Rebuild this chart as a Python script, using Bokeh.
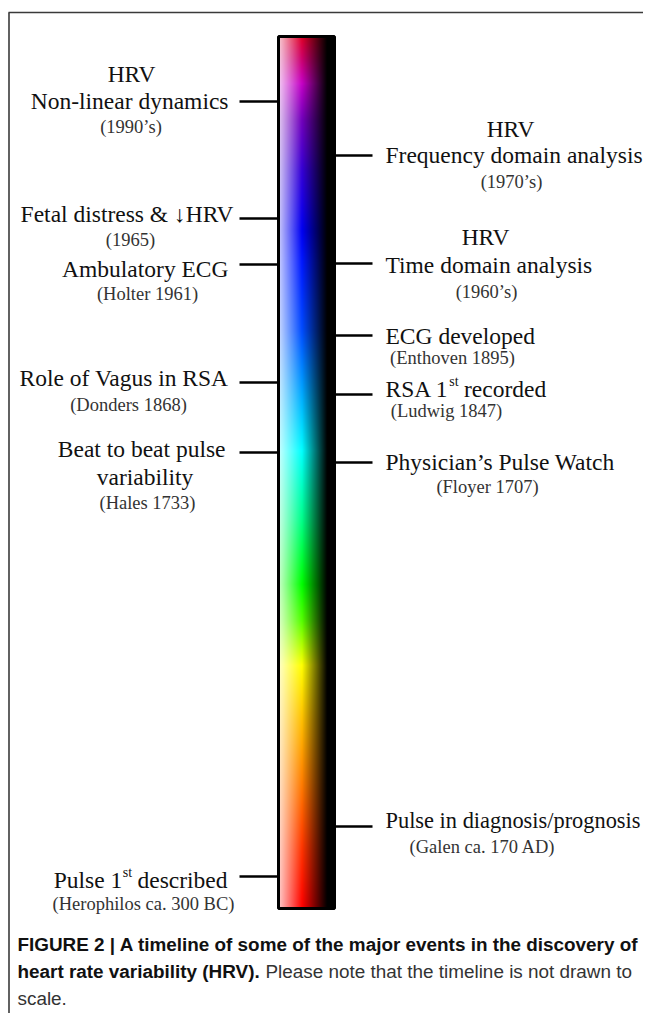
import numpy as np
from bokeh.plotting import figure
from bokeh.models import Range1d
from bokeh.core.properties import value
from bokeh.embed import file_html
from bokeh.resources import INLINE

# ---------------- data ----------------
left_pre = ["HRV", "", "", "", "", ""]
left_main = ["Non-linear dynamics", "Fetal distress & \u2193HRV", "Ambulatory ECG",
             "Role of Vagus in RSA", "Beat to beat pulse", "Pulse 1st described"]
left_second = ["", "", "", "", "variability", ""]
left_sub = ["(1990\u2019s)", "(1965)", "(Holter 1961)", "(Donders 1868)",
            "(Hales 1733)", "(Herophilos ca. 300 BC)"]

right_pre = ["HRV", "HRV", "", "", "", ""]
right_main = ["Frequency domain analysis", "Time domain analysis", "ECG developed",
              "RSA 1st recorded", "Physician\u2019s Pulse Watch", "Pulse in diagnosis/prognosis"]
right_sub = ["(1970\u2019s)", "(1960\u2019s)", "(Enthoven 1895)", "(Ludwig 1847)",
             "(Floyer 1707)", "(Galen ca. 170 AD)"]

caption_1 = "FIGURE 2 | A timeline of some of the major events in the discovery of"
caption_2b = "heart rate variability (HRV)."
caption_2r = "Please note that the timeline is not drawn to"
caption_3 = "scale."

# ---------------- layout (pixels from top-left) ----------------
W, H = 643, 1013
def Y(v):
    return H - v

left_tick = [101, 218, 264, 382, 452, 876]
left_main_y = [100.5, 213, 268, 377, 448.5, 879]
left_main_r = [228, 233, 228, 228, 225, 227]
left_pre_y = [73, 0, 0, 0, 0, 0]
left_pre_cx = [131, 0, 0, 0, 0, 0]
left_second_y = [0, 0, 0, 0, 476.5, 0]
left_second_cx = [0, 0, 0, 0, 144.5, 0]
left_sub_y = [126.5, 239.5, 293.5, 404, 502, 903]
left_sub_cx = [130.5, 130, 147, 128, 147, 143]

right_tick = [155, 263, 335, 394, 462, 826]
right_main_y = [154.5, 264.5, 335, 388, 461, 820]
right_main_x = 385
right_main_fs = [23.5, 23.5, 23.5, 23.5, 23.5, 22.4]
right_pre_y = [128.5, 236, 0, 0, 0, 0]
right_pre_cx = [510, 485, 0, 0, 0, 0]
right_sub_y = [181.5, 291.5, 357, 410, 486, 846]
right_sub_cx = [511, 486, 452, 446, 487, 482]

BAR_X0, BAR_X1, BAR_Y0, BAR_Y1 = 278, 334, 36, 908

SERIF = value("Liberation Serif")
SANS = value("Liberation Sans")
MAIN_FS = 23.5
SUB_FS = "18.5px"
SUP_FS = 14
MAIN_C = "#111111"
SUB_C = "#333333"

# Times / Liberation Serif advance widths (per em) for superscript placement
TW = {" ": .25, "P": .556, "u": .5, "l": .278, "s": .389, "e": .444, "1": .5,
      "t": .278, "d": .5, "c": .444, "r": .333, "i": .278, "b": .5, "R": .667,
      "S": .556, "A": .722, "o": .5}
def tw(s, fs):
    return sum(TW.get(ch, .5) for ch in s) * fs

p = figure(width=W, height=H, x_range=Range1d(0, W), y_range=Range1d(0, H),
           output_backend="svg", toolbar_location=None, min_border=0,
           x_axis_type=None, y_axis_type=None)
p.outline_line_color = None
p.background_fill_color = "white"
p.border_fill_color = "white"

# frame (left and top lines)
p.segment(x0=[8.5, 8], y0=[Y(H + 2), Y(12)], x1=[8.5, W + 2], y1=[Y(12), Y(12)],
          line_color="#3a3a3a", line_width=1.6)

# ---------------- spectrum bar ----------------
hue_y = np.array([36, 55, 85, 120, 170, 230, 330, 440, 520, 580, 620, 665, 720, 780, 850, 908])
hue_v = np.array([350, 332, 298, 276, 255, 240, 222, 184, 152, 122, 100, 60, 45, 30, 12, 0])
val_y = np.array([36, 60, 120, 200, 260, 908])
val_v = np.array([0.88, 0.8, 0.74, 0.9, 1.0, 1.0])
bh = BAR_Y1 - BAR_Y0
bw = BAR_X1 - BAR_X0
rows = np.arange(bh) + BAR_Y0 + 0.5  # top to bottom
hue = np.interp(rows, hue_y, hue_v) / 360.0
vv = np.interp(rows, val_y, val_v)
h6 = hue * 6
r = np.clip(np.abs(h6 - 3) - 1, 0, 1) * vv
g = np.clip(2 - np.abs(h6 - 2), 0, 1) * vv
b = np.clip(2 - np.abs(h6 - 4), 0, 1) * vv
base = np.stack([r, g, b], axis=-1)[:, None, :]
t = (np.arange(bw) + 0.5) / bw
wmix = np.clip(0.8 * (1 - t / 0.42), 0, 1)[None, :, None]
kmix = np.clip((t - 0.42) / 0.45, 0, 1)[None, :, None]
col = (base * (1 - wmix) + wmix) * (1 - kmix)
col = np.flipud(col)  # row 0 = bottom
img = np.empty((bh, bw), dtype=np.uint32)
view = img.view(dtype=np.uint8).reshape((bh, bw, 4))
view[:, :, :3] = (np.clip(col, 0, 1) * 255).astype(np.uint8)
view[:, :, 3] = 255
p.image_rgba(image=[img], x=BAR_X0, y=Y(BAR_Y1), dw=bw, dh=bh)
p.quad(left=BAR_X0, right=BAR_X1, top=Y(BAR_Y0), bottom=Y(BAR_Y1),
       fill_alpha=0, line_color="black", line_width=3)

# ---------------- ticks ----------------
p.segment(x0=[239] * len(left_tick), x1=[BAR_X0] * len(left_tick),
          y0=[Y(v) for v in left_tick], y1=[Y(v) for v in left_tick],
          line_color="black", line_width=2.5)
p.segment(x0=[BAR_X1] * len(right_tick), x1=[372] * len(right_tick),
          y0=[Y(v) for v in right_tick], y1=[Y(v) for v in right_tick],
          line_color="black", line_width=2.5)

def txt(x, y, s, fs, color, align, font=SERIF, style="normal"):
    p.text(x=[x], y=[Y(y)], text=[s], text_font=font, text_font_size=fs,
           text_color=color, text_align=align, text_baseline="middle",
           text_font_style=style)

def main_label(s, x, y, align, fs=MAIN_FS):
    fss = "%gpx" % fs
    if "1st" in s:
        pre, post = s.split("1st")
        pre = pre + "1"
        post = post.lstrip()
        w_pre = tw(pre, fs)
        w_sup = tw("st", SUP_FS)
        w_sp = tw(" ", fs)
        w_post = tw(post, fs)
        total = w_pre + w_sup + w_sp + w_post
        x0 = x - total if align == "right" else x
        txt(x0, y, pre, fss, MAIN_C, "left")
        txt(x0 + w_pre + 0.5, y - 7, "st", "%gpx" % SUP_FS, MAIN_C, "left")
        txt(x0 + w_pre + w_sup + w_sp, y, post, fss, MAIN_C, "left")
    else:
        txt(x, y, s, fss, MAIN_C, align)

MFS = "%gpx" % MAIN_FS
for i in range(len(left_main)):
    if left_pre[i]:
        txt(left_pre_cx[i], left_pre_y[i], left_pre[i], MFS, MAIN_C, "center")
    main_label(left_main[i], left_main_r[i], left_main_y[i], "right")
    if left_second[i]:
        txt(left_second_cx[i], left_second_y[i], left_second[i], MFS, MAIN_C, "center")
    txt(left_sub_cx[i], left_sub_y[i], left_sub[i], SUB_FS, SUB_C, "center")

for i in range(len(right_main)):
    if right_pre[i]:
        txt(right_pre_cx[i], right_pre_y[i], right_pre[i], MFS, MAIN_C, "center")
    main_label(right_main[i], right_main_x, right_main_y[i], "left", right_main_fs[i])
    txt(right_sub_cx[i], right_sub_y[i], right_sub[i], SUB_FS, SUB_C, "center")

# ---------------- caption ----------------
CAP_FS = "18.9px"
txt(17, 944, caption_1, CAP_FS, "#111111", "left", SANS, "bold")
txt(17, 971, caption_2b, CAP_FS, "#111111", "left", SANS, "bold")
txt(265, 971, caption_2r, CAP_FS, "#333333", "left", SANS, "normal")
txt(17, 998, caption_3, CAP_FS, "#333333", "left", SANS, "normal")

open("out.html", "w").write(file_html(p, INLINE))
